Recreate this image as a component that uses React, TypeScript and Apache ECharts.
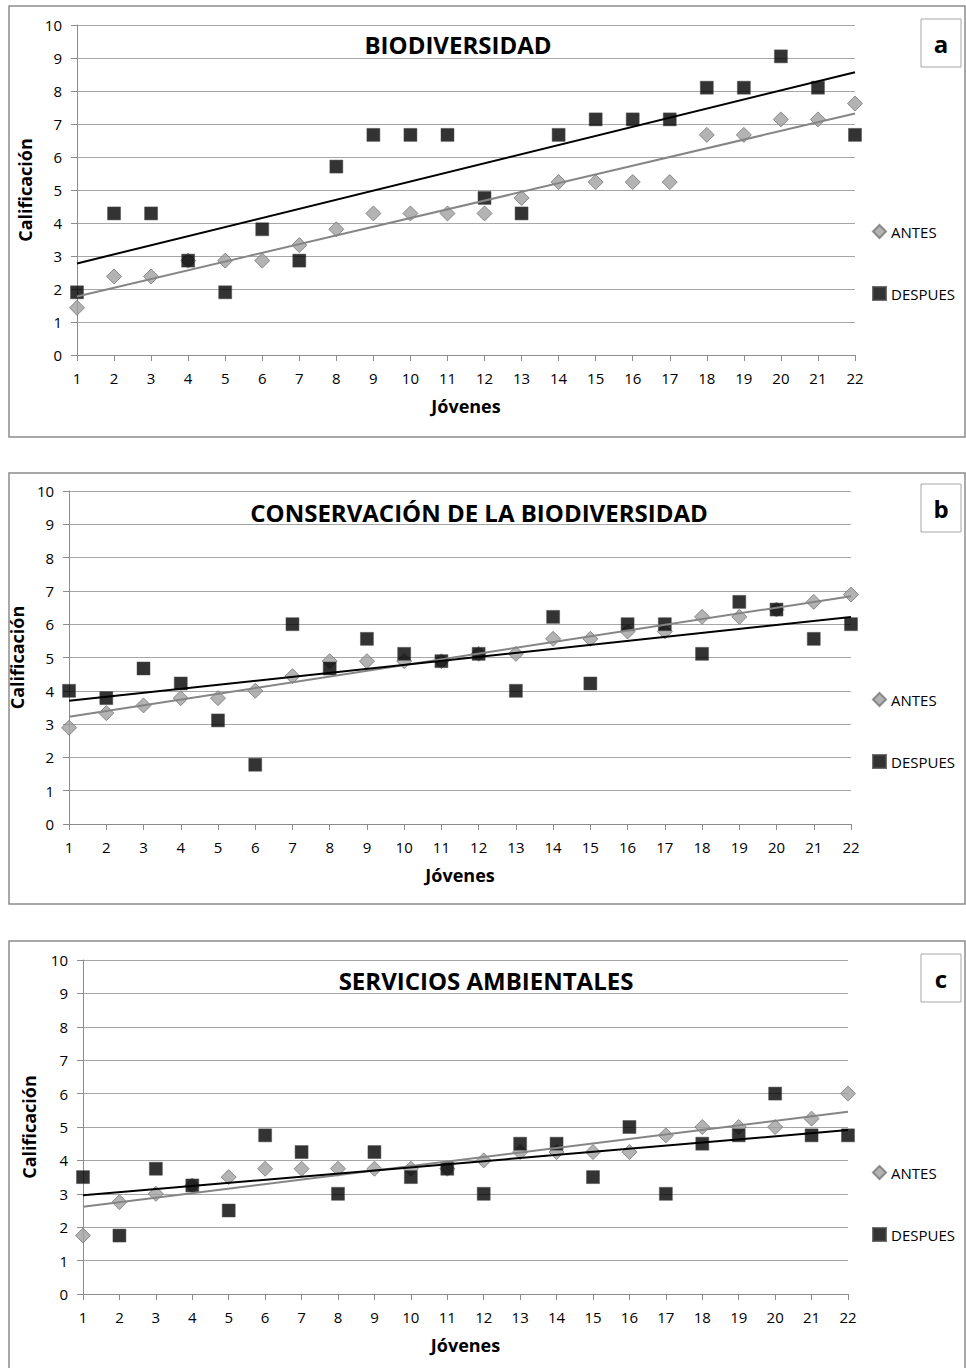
import React, { useEffect, useRef } from "react";
import * as echarts from "echarts";

const JOVENES = [1, 2, 3, 4, 5, 6, 7, 8, 9, 10, 11, 12, 13, 14, 15, 16, 17, 18, 19, 20, 21, 22];
const Y_TICKS = [0, 1, 2, 3, 4, 5, 6, 7, 8, 9, 10];

const TITLES = ["BIODIVERSIDAD", "CONSERVACIÓN DE LA BIODIVERSIDAD", "SERVICIOS AMBIENTALES"];
const PANEL_LETTERS = ["a", "b", "c"];
const LEGEND_NAMES = ["ANTES", "DESPUES"];

const antesA = [1.43, 2.38, 2.38, 2.86, 2.86, 2.86, 3.33, 3.81, 4.29, 4.29, 4.29, 4.29, 4.76, 5.24, 5.24, 5.24, 5.24, 6.67, 6.67, 7.14, 7.14, 7.62];
const despuesA = [1.9, 4.29, 4.29, 2.86, 1.9, 3.81, 2.86, 5.71, 6.67, 6.67, 6.67, 4.76, 4.29, 6.67, 7.14, 7.14, 7.14, 8.1, 8.1, 9.05, 8.1, 6.67];

const antesB = [2.89, 3.33, 3.56, 3.78, 3.78, 4.0, 4.44, 4.89, 4.89, 4.89, 4.89, 5.11, 5.11, 5.56, 5.56, 5.78, 5.78, 6.22, 6.22, 6.44, 6.67, 6.89];
const despuesB = [4.0, 3.78, 4.67, 4.22, 3.11, 1.78, 6.0, 4.67, 5.56, 5.11, 4.89, 5.11, 4.0, 6.22, 4.22, 6.0, 6.0, 5.11, 6.67, 6.44, 5.56, 6.0];

const antesC = [1.75, 2.75, 3.0, 3.25, 3.5, 3.75, 3.75, 3.75, 3.75, 3.75, 3.75, 4.0, 4.25, 4.25, 4.25, 4.25, 4.75, 5.0, 5.0, 5.0, 5.25, 6.0];
const despuesC = [3.5, 1.75, 3.75, 3.25, 2.5, 4.75, 4.25, 3.0, 4.25, 3.5, 3.75, 3.0, 4.5, 4.5, 3.5, 5.0, 3.0, 4.5, 4.75, 6.0, 4.75, 4.75];

const PANELS = [
  { antes: antesA, despues: despuesA },
  { antes: antesB, despues: despuesB },
  { antes: antesC, despues: despuesC },
];

// layout (pixels)
const LAYOUT = [
  { box: [9, 6, 956, 431], grid: [77, 25, 778, 330], title: [458, 44], letter: [921, 19], legendTop: 219, yNameGap: 39 },
  { box: [9, 473, 956, 431], grid: [69, 491, 782, 333], title: [479, 512], letter: [921, 484], legendTop: 687, yNameGap: 31 },
  { box: [9, 941, 956, 440], grid: [83, 960, 765, 334], title: [486, 980], letter: [921, 954], legendTop: 1160, yNameGap: 45 },
];

const FONT = "'Open Sans', 'Liberation Sans', sans-serif";
const GRID_COLOR = "#a6a6a6";
const AXIS_COLOR = "#8c8c8c";
const DIAMOND_FILL = "#a0a0a0";
const DIAMOND_BORDER = "#767676";
const SQUARE_BORDER = "#4a4a4a";

function linreg(xs: number[], ys: number[]) {
  const n = xs.length;
  let sx = 0, sy = 0, sxx = 0, sxy = 0;
  for (let i = 0; i < n; i++) {
    sx += xs[i]; sy += ys[i]; sxx += xs[i] * xs[i]; sxy += xs[i] * ys[i];
  }
  const b = (n * sxy - sx * sy) / (n * sxx - sx * sx);
  const a = (sy - b * sx) / n;
  const x0 = xs[0], x1 = xs[n - 1];
  return [[x0, a + b * x0], [x1, a + b * x1]];
}

export default function App() {
  const ref = useRef<HTMLDivElement>(null);

  useEffect(() => {
    if (!ref.current) return;
    const chart = echarts.init(ref.current, null, { renderer: "svg" });

    const grids: any[] = [];
    const xAxes: any[] = [];
    const yAxes: any[] = [];
    const series: any[] = [];
    const legends: any[] = [];
    const graphics: any[] = [];

    PANELS.forEach((p, i) => {
      const L = LAYOUT[i];
      grids.push({ left: L.grid[0], top: L.grid[1], width: L.grid[2], height: L.grid[3], containLabel: false });
      xAxes.push({
        gridIndex: i,
        type: "value",
        min: JOVENES[0],
        max: JOVENES[JOVENES.length - 1],
        interval: 1,
        name: "Jóvenes",
        nameLocation: "middle",
        nameGap: 42,
        nameTextStyle: { fontFamily: FONT, fontSize: 18, fontWeight: "bold", color: "#000" },
        axisLine: { show: true, onZero: false, lineStyle: { color: AXIS_COLOR, width: 1 } },
        axisTick: { show: true, length: 6, lineStyle: { color: AXIS_COLOR } },
        axisLabel: { fontFamily: FONT, fontSize: 15, color: "#000", margin: 15 },
        splitLine: { show: false },
      });
      yAxes.push({
        gridIndex: i,
        type: "value",
        min: Y_TICKS[0],
        max: Y_TICKS[Y_TICKS.length - 1],
        interval: 1,
        name: "Calificación",
        nameLocation: "middle",
        nameRotate: 90,
        nameGap: L.yNameGap,
        nameTextStyle: { fontFamily: FONT, fontSize: 18, fontWeight: "bold", color: "#000" },
        axisLine: { show: true, lineStyle: { color: AXIS_COLOR, width: 1 } },
        axisTick: { show: true, length: 6, lineStyle: { color: AXIS_COLOR } },
        axisLabel: { fontFamily: FONT, fontSize: 15, color: "#000", margin: 15 },
        splitLine: { show: true, lineStyle: { color: GRID_COLOR, width: 1 } },
      });

      series.push({
        name: "ANTES",
        type: "scatter",
        xAxisIndex: i,
        yAxisIndex: i,
        symbol: "diamond",
        symbolSize: 15,
        clip: false,
        z: 2,
        itemStyle: { color: DIAMOND_FILL, borderColor: DIAMOND_BORDER, borderWidth: 1 },
        data: JOVENES.map((x, k) => [x, p.antes[k]]),
      });
      series.push({
        name: "DESPUES",
        type: "scatter",
        xAxisIndex: i,
        yAxisIndex: i,
        symbol: "rect",
        symbolSize: 13,
        clip: false,
        z: 3,
        itemStyle: { color: "#000", borderColor: SQUARE_BORDER, borderWidth: 0.6 },
        data: JOVENES.map((x, k) => [x, p.despues[k]]),
      });
      series.push({
        name: "Tendencia ANTES " + PANEL_LETTERS[i],
        type: "line",
        xAxisIndex: i,
        yAxisIndex: i,
        symbol: "none",
        silent: true,
        z: 4,
        lineStyle: { color: "#858585", width: 2 },
        data: linreg(JOVENES, p.antes),
      });
      series.push({
        name: "Tendencia DESPUES " + PANEL_LETTERS[i],
        type: "line",
        xAxisIndex: i,
        yAxisIndex: i,
        symbol: "none",
        silent: true,
        z: 5,
        lineStyle: { color: "#000", width: 2 },
        data: linreg(JOVENES, p.despues),
      });

      legends.push({
        data: [
          { name: LEGEND_NAMES[0], icon: "diamond" },
          { name: LEGEND_NAMES[1], icon: "rect" },
        ],
        orient: "vertical",
        left: 867,
        top: L.legendTop,
        itemWidth: 13,
        itemHeight: 13,
        itemGap: 47,
        selectedMode: false,
        textStyle: { fontFamily: FONT, fontSize: 15, color: "#000" },
      });

      graphics.push({
        type: "rect",
        shape: { x: L.box[0], y: L.box[1], width: L.box[2], height: L.box[3] },
        style: { fill: "none", stroke: "#8c8c8c", lineWidth: 1.5 },
        z: 0,
        silent: true,
      });
      graphics.push({
        type: "rect",
        shape: { x: L.letter[0], y: L.letter[1], width: 40, height: 48 },
        style: { fill: "#fff", stroke: "#a6a6a6", lineWidth: 1 },
        silent: true,
      });
      graphics.push({
        type: "text",
        x: L.letter[0] + 20,
        y: L.letter[1] + 24,
        style: {
          text: PANEL_LETTERS[i],
          fontFamily: FONT,
          fontSize: 24,
          fontWeight: "bold",
          fill: "#000",
          textAlign: "center",
          textVerticalAlign: "middle",
        },
        silent: true,
      });
      graphics.push({
        type: "text",
        x: L.title[0],
        y: L.title[1],
        style: {
          text: TITLES[i],
          fontFamily: FONT,
          fontSize: 24,
          fontWeight: "bold",
          fill: "#000",
          textAlign: "center",
          textVerticalAlign: "middle",
        },
        z: 10,
        silent: true,
      });
    });

    chart.setOption({
      animation: false,
      backgroundColor: "#fff",
      grid: grids,
      xAxis: xAxes,
      yAxis: yAxes,
      legend: legends,
      series,
      graphic: { elements: graphics },
    });

    return () => chart.dispose();
  }, []);

  return (
    <div
      ref={ref}
      style={{ position: "absolute", left: 0, top: 0, width: 966, height: 1368, background: "#fff" }}
    />
  );
}
